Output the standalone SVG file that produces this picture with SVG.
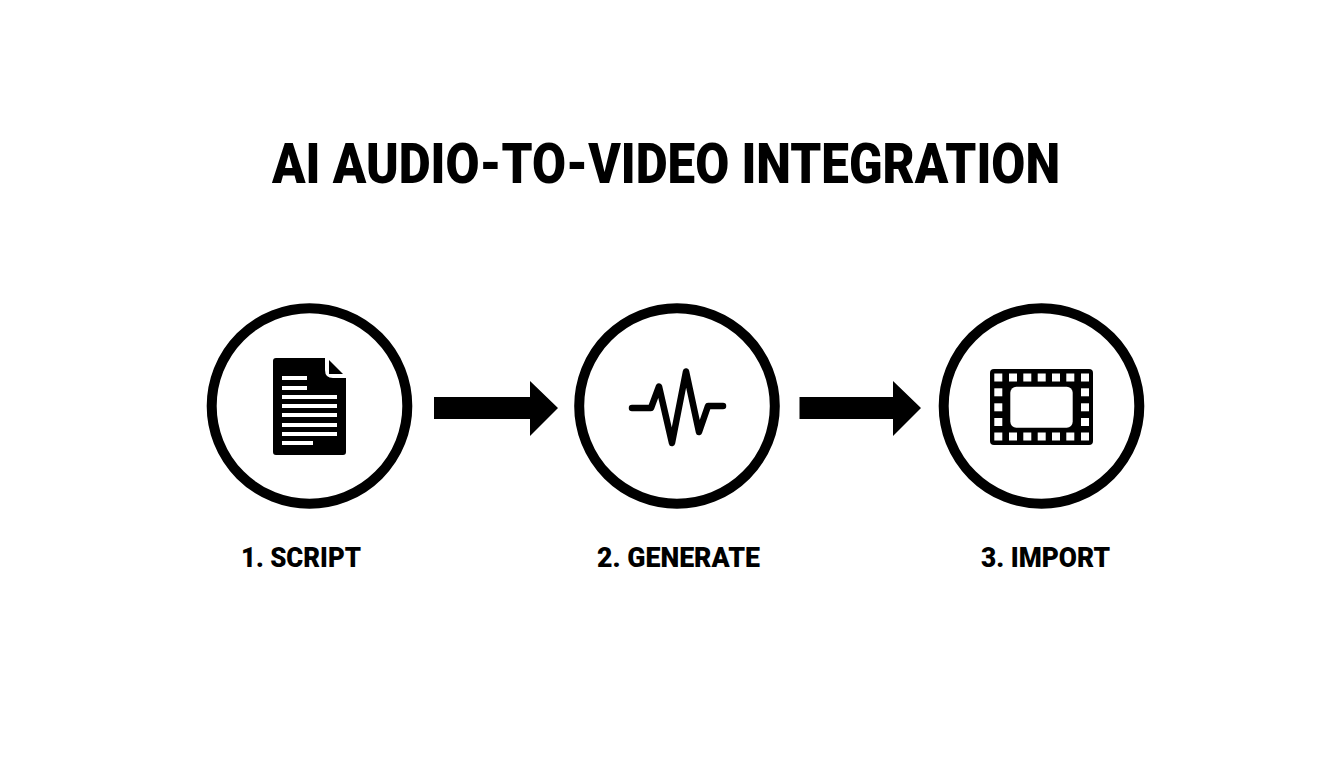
<svg xmlns="http://www.w3.org/2000/svg" width="1344" height="768" viewBox="0 0 1344 768">
<style>
.t{font-family:Roboto,"Liberation Sans",sans-serif;font-weight:900;fill:#000;text-anchor:middle}
.title{font-size:55px}
.lab{font-size:28px}
.ring{fill:#fff;stroke:#000;stroke-width:10}
.w{fill:#fff}
</style>
<rect width="1344" height="768" fill="#fff"/>
<text class="t title" x="666" y="182.500" textLength="788" lengthAdjust="spacingAndGlyphs">AI AUDIO-TO-VIDEO INTEGRATION</text>
<g id="node-script">
<circle class="ring" cx="309.500" cy="406" r="97.800"/>
<path d="M276 358H325V370Q325 378 333 378H346V452Q346 455 343 455H276Q273 455 273 452V361Q273 358 276 358Z"/>
<path d="M329 360L343 374H329Z"/>
<g class="w">
<rect x="282" y="376" width="25" height="4"/>
<rect x="282" y="386" width="25" height="4"/>
<rect x="282" y="395" width="55" height="4"/>
<rect x="282" y="404" width="55" height="4"/>
<rect x="282" y="413" width="55" height="4"/>
<rect x="282" y="423" width="55" height="4"/>
<rect x="282" y="432" width="55" height="4"/>
<rect x="282" y="441" width="31" height="4"/>
</g>
<text class="t lab" x="301" y="567" textLength="120" lengthAdjust="spacingAndGlyphs">1. SCRIPT</text>
</g>
<g id="node-generate">
<circle class="ring" cx="677" cy="406" r="97.800"/>
<path d="M632 408H651L659 386.500L672 443L686 371.500L699 432L708 406H723" fill="none" stroke="#000" stroke-width="6.500" stroke-linecap="round" stroke-linejoin="round"/>
<text class="t lab" x="678.500" y="567" textLength="163" lengthAdjust="spacingAndGlyphs">2. GENERATE</text>
</g>
<g id="node-import">
<circle class="ring" cx="1041.500" cy="406" r="97.800"/>
<rect x="990" y="369" width="103" height="76" rx="4"/>
<rect class="w" x="1010.300" y="386.700" width="62.400" height="41" rx="6"/>
<g class="w">
<rect x="994.300" y="373.500" width="8" height="8"/><rect x="1009" y="373.500" width="8" height="8"/><rect x="1023.300" y="373.500" width="8" height="8"/><rect x="1037.700" y="373.500" width="8" height="8"/><rect x="1052" y="373.500" width="8" height="8"/><rect x="1066.300" y="373.500" width="8" height="8"/><rect x="1081" y="373.500" width="8" height="8"/>
<rect x="994.300" y="432.500" width="8" height="8"/><rect x="1009" y="432.500" width="8" height="8"/><rect x="1023.300" y="432.500" width="8" height="8"/><rect x="1037.700" y="432.500" width="8" height="8"/><rect x="1052" y="432.500" width="8" height="8"/><rect x="1066.300" y="432.500" width="8" height="8"/><rect x="1081" y="432.500" width="8" height="8"/>
<rect x="994.300" y="388.300" width="8" height="8"/><rect x="994.300" y="403.300" width="8" height="8"/><rect x="994.300" y="418" width="8" height="8"/>
<rect x="1081" y="388.300" width="8" height="8"/><rect x="1081" y="403.300" width="8" height="8"/><rect x="1081" y="418" width="8" height="8"/>
</g>
<text class="t lab" x="1045.500" y="567" textLength="129" lengthAdjust="spacingAndGlyphs">3. IMPORT</text>
</g>
<g id="connectors">
<path d="M434 397H530V381L558 408L530 436V419H434Z"/>
<path d="M799.500 397H893V381L921 408L893 436V419H799.500Z"/>
</g>
</svg>
